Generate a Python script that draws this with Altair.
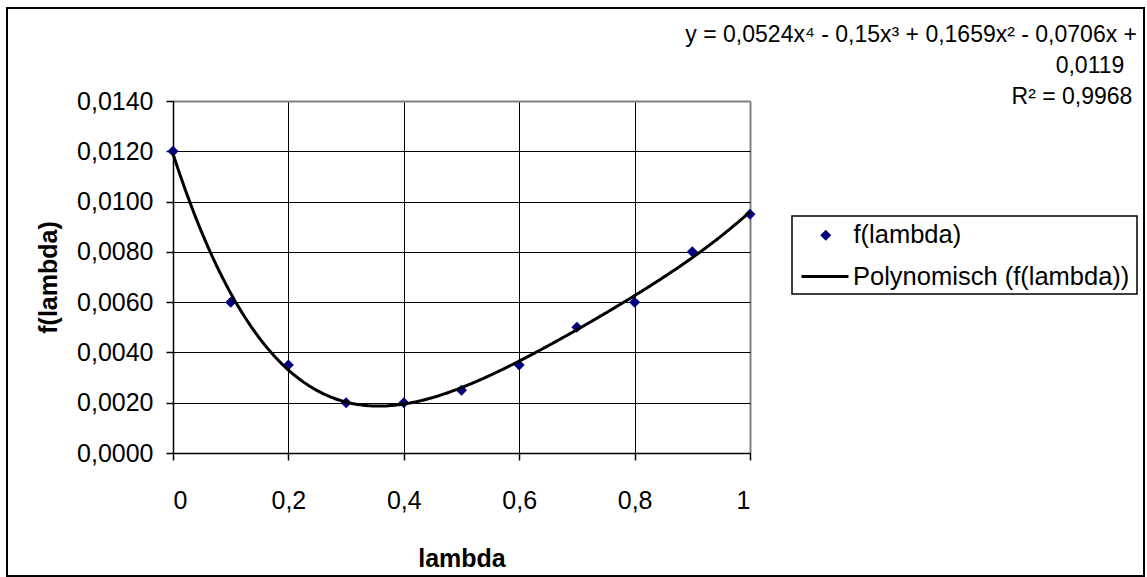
import altair as alt
import pandas as pd

# Measured values of f over lambda
lam = [0.0, 0.1, 0.2, 0.3, 0.4, 0.5, 0.6, 0.7, 0.8, 0.9, 1.0]
f_lam = [0.0120, 0.0060, 0.0035, 0.0020, 0.0020, 0.0025, 0.0035, 0.0050, 0.0060, 0.0080, 0.0095]

# 4th-order polynomial trendline, highest power first
poly_coef = [0.0524, -0.15, 0.1659, -0.0706, 0.0119]
r_squared = 0.9968

x_ticks = [0.0, 0.2, 0.4, 0.6, 0.8, 1.0]
y_ticks = [0.0, 0.002, 0.004, 0.006, 0.008, 0.010, 0.012, 0.014]

points_name = "f(lambda)"
trend_name = "Polynomisch (f(lambda))"
x_title = "lambda"
y_title = "f(lambda)"

FONT = "Liberation Sans"
W, H = 577, 352          # plot area
LEFT, TOP = 173, 101     # plot origin inside the 1147x577 page
RIGHT, BOTTOM = 1147 - LEFT - W, 577 - TOP - H


def de_num(v):
    return f"{abs(v):g}".replace(".", ",")


SUP = {4: "\u2074", 3: "\u00b3", 2: "\u00b2", 1: "", 0: ""}
order = len(poly_coef) - 1
terms = []
for i, c in enumerate(poly_coef):
    p = order - i
    body = de_num(c) + ("x" + SUP[p] if p > 0 else "")
    if i == 0:
        terms.append(("-" if c < 0 else "") + body)
    else:
        terms.append(("- " if c < 0 else "+ ") + body)
eq_line1 = "y = " + " ".join(terms[:-1]) + " " + terms[-1][0]
eq_line2 = terms[-1][2:]
eq_line3 = "R\u00b2 = " + de_num(r_squared)

poly_expr = " + ".join(
    f"({c})*pow(datum.x, {order - i})" for i, c in enumerate(poly_coef)
)

x_scale = alt.Scale(domain=[0, 1], nice=False, zero=False)
y_scale = alt.Scale(domain=[0, 0.014], nice=False)

edge_x = {"condition": {"test": "datum.value >= 0.999", "value": "#808080"}, "value": "#000000"}
edge_y = {"condition": {"test": "datum.value >= 0.0139", "value": "#808080"}, "value": "#000000"}
edge_wx = {"condition": {"test": "datum.value >= 0.999", "value": 2}, "value": 1}
edge_wy = {"condition": {"test": "datum.value >= 0.0139", "value": 2}, "value": 1}

x_axis = alt.Axis(
    values=x_ticks,
    labelExpr="replace(format(datum.value, '.1~f'), '.', ',')",
    title=x_title,
    titleY=113,
    titleBaseline="alphabetic",
    labelPadding=28,
    gridColor=edge_x,
    gridWidth=edge_wx,
)
y_axis = alt.Axis(
    values=y_ticks,
    labelExpr="replace(format(datum.value, '.4f'), '.', ',')",
    title=y_title,
    titleX=-125,
    titleY=H / 2,
    titleAngle=270,
    titleAlign="center",
    titleBaseline="middle",
    labelPadding=13,
    gridColor=edge_y,
    gridWidth=edge_wy,
)

pts_df = pd.DataFrame({"lam": lam, "f": f_lam, "series": points_name})

points = alt.Chart(pts_df).mark_point(
    shape="diamond", filled=True, size=121, opacity=1
).encode(
    x=alt.X("lam:Q", scale=x_scale, axis=x_axis),
    y=alt.Y("f:Q", scale=y_scale, axis=y_axis),
    color=alt.Color(
        "series:N",
        scale=alt.Scale(domain=[points_name], range=["#000080"]),
        legend=alt.Legend(
            orient="none", legendX=640, legendY=121.5, title=None,
            symbolType="diamond", symbolSize=121, symbolFillColor="#000080",
            symbolStrokeWidth=0, labelOffset=15, labelLimit=0,
        ),
    ),
)

trend = alt.Chart(alt.sequence(0, 1.0001, 0.0025, as_="x")).transform_calculate(
    y=poly_expr, series=f"'{trend_name}'"
).mark_line(strokeWidth=3).encode(
    x=alt.X("x:Q", scale=x_scale),
    y=alt.Y("y:Q", scale=y_scale),
    color=alt.Color(
        "series:N",
        scale=alt.Scale(domain=[trend_name], range=["#000000"]),
        legend=alt.Legend(
            orient="none", legendX=627, legendY=150.5, title=None,
            symbolType="stroke", symbolSize=2209, symbolStrokeWidth=3,
            symbolStrokeColor="#000000", labelOffset=3, labelLimit=0,
        ),
    ),
)

one = pd.DataFrame({"k": [0]})

legend_box = alt.Chart(one).mark_rect(
    fillOpacity=0, stroke="#000000", strokeWidth=1.5
).encode(
    x=alt.value(619), x2=alt.value(964), y=alt.value(115), y2=alt.value(193)
)

frame = alt.Chart(one).mark_rect(
    fillOpacity=0, stroke="#000000", strokeWidth=2
).encode(
    x=alt.value(7 - LEFT), x2=alt.value(1144 - LEFT),
    y=alt.value(8 - TOP), y2=alt.value(576 - TOP)
)


def eq_text(txt, x, y, align):
    return alt.Chart(pd.DataFrame({"t": [txt]})).mark_text(
        font=FONT, fontSize=23, color="#000000", align=align, baseline="middle"
    ).encode(text="t:N", x=alt.value(x), y=alt.value(y))


eq1 = eq_text(eq_line1, 1137 - LEFT, 35 - TOP, "right")
eq2 = eq_text(eq_line2, 1090 - LEFT, 66 - TOP, "center")
eq3 = eq_text(eq_line3, 1072 - LEFT, 97 - TOP, "center")

chart = alt.layer(frame, points, trend, legend_box, eq1, eq2, eq3).resolve_scale(
    color="independent"
).properties(
    width=W, height=H,
    autosize=alt.AutoSizeParams(type="none"),
    padding={"left": LEFT, "top": TOP, "right": RIGHT, "bottom": BOTTOM},
    background="#ffffff",
).configure_view(stroke=None).configure_axis(
    labelFont=FONT, labelFontSize=25, labelColor="#000000",
    titleFont=FONT, titleFontSize=25, titleFontWeight="bold", titleColor="#000000",
    domainColor="#000000", domainWidth=1.5,
    tickColor="#000000", tickSize=7, tickWidth=1.5,
    grid=True,
).configure_legend(
    labelFont=FONT, labelFontSize=25.5, labelColor="#000000", padding=0,
)

chart.save("out.html", embed_options={"renderer": "svg", "actions": False})
